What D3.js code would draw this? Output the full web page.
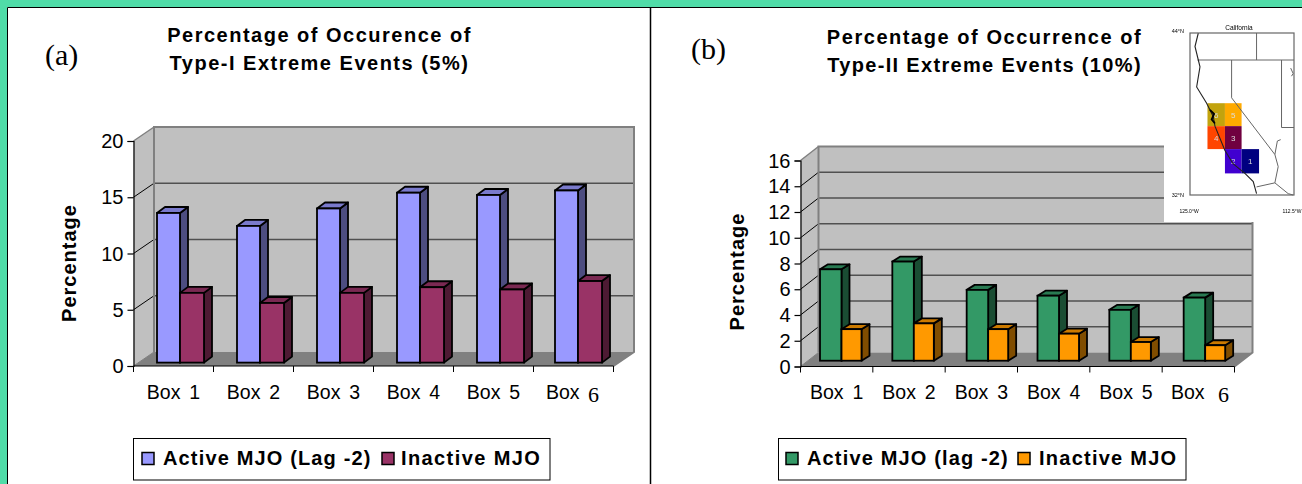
<!DOCTYPE html>
<html><head><meta charset="utf-8">
<script src="https://cdn.jsdelivr.net/npm/d3@7"></script>
<style>
html,body{margin:0;padding:0;background:#fff;overflow:hidden}
svg{display:block}
text{font-family:"Liberation Sans",Arial,sans-serif;fill:#000}
.serif{font-family:"Liberation Serif","Times New Roman",serif}
</style></head><body>
<svg id="c" width="1302" height="484"></svg>
<script>
const categories = ["Box 1","Box 2","Box 3","Box 4","Box 5","Box 6"];
const activeA = [13.3, 12.15, 13.7, 15.1, 14.9, 15.3];
const inactiveA = [6.2, 5.3, 6.2, 6.7, 6.5, 7.25];
const activeB = [7.1, 7.7, 5.5, 5.05, 3.95, 4.9];
const inactiveB = [2.45, 2.9, 2.45, 2.1, 1.45, 1.2];
const ticksA = [0,5,10,15,20];
const ticksB = [0,2,4,6,8,10,12,14,16];
const titleA = ["Percentage of Occurence of","Type-I Extreme Events (5%)"];
const titleB = ["Percentage of Occurrence of","Type-II Extreme Events (10%)"];
const legendA = ["Active MJO (Lag -2)","Inactive MJO"];
const legendB = ["Active MJO (lag -2)","Inactive MJO"];
// inset map outlines, lon/lat degrees
const coast = [[-124,44],[-124.4,43],[-123.8,41.5],[-124.2,40],[-123,38.8],[-122.2,37.8],[-122,37.1],[-120.8,35.3],[-119.8,34.3],[-118.4,33.6],[-117.4,33],[-117,32.1]];
const bay = [[-122.6,38.3],[-122.1,38],[-122.4,37.6],[-122,37.3]];
const caBorder = [[-120,42],[-120,39.2],[-114.8,35],[-114.4,34.1],[-114.8,32.9],[-117,32.6]];
const otherBorders = [
 [[-124.1,42],[-112.5,42]],[[-117,44],[-117,42]],[[-114,42],[-114,37]],[[-114,37],[-112.5,37]],
 [[-114.8,32.9],[-113.2,32.1],[-112.6,32]],[[-114.8,35],[-114.5,36],[-114.1,36.1]],[[-112.9,41.4],[-112.6,41],[-112.8,40.8]]];
const mapBoxes = [
 {n:"6",lon:[-122.9,-120.8],lat:[38.8,37.1],c:"#C2A30F"},
 {n:"5",lon:[-120.8,-118.8],lat:[38.8,37.1],c:"#FFAA00"},
 {n:"4",lon:[-122.9,-120.8],lat:[37.1,35.4],c:"#FF4500"},
 {n:"3",lon:[-120.8,-118.8],lat:[37.1,35.4],c:"#700040"},
 {n:"2",lon:[-120.8,-118.8],lat:[35.4,33.6],c:"#4000D0"},
 {n:"1",lon:[-118.8,-116.7],lat:[35.4,33.6],c:"#000080"}];

const svg = d3.select("#c");
const TEAL = "#50DCA8";
// frame
svg.append("rect").attr("width",1302).attr("height",7).attr("fill",TEAL);
svg.append("rect").attr("width",7).attr("height",484).attr("fill",TEAL);
svg.append("path").attr("d","M7.5,484V7.5H1302").attr("fill","none").attr("stroke","#000").attr("stroke-width",1);
svg.append("path").attr("d","M650.5,7V484").attr("fill","none").attr("stroke","#000").attr("stroke-width",1.5);

function poly(g,pts,fill,stroke,sw){
  return g.append("polygon").attr("points",pts.map(p=>p.join(",")).join(" "))
    .attr("fill",fill).attr("stroke",stroke||"none").attr("stroke-width",sw||0).attr("stroke-linejoin","round");
}
function shade(c,k){const r=d3.rgb(c);return d3.rgb(r.r*k,r.g*k,r.b*k).formatHex();}

function chart(o){
  const g = svg.append("g");
  const y = d3.scaleLinear().domain([0,o.ymax]).range([o.y0,o.yTop]);
  const x = d3.scaleBand().domain(categories).range([o.x0,o.x1]);
  const dx=o.dx, dy=o.dy;
  // walls
  poly(g,[[o.x0,y(0)],[o.x0+dx,y(0)-dy],[o.x0+dx,o.yTop-dy],[o.x0,o.yTop]],"#C0C0C0");
  poly(g,[[o.x0+dx,y(0)-dy],[o.x1+dx,y(0)-dy],[o.x1+dx,o.yTop-dy],[o.x0+dx,o.yTop-dy]],"#C0C0C0");
  poly(g,[[o.x0,y(0)],[o.x1,y(0)],[o.x1+dx,y(0)-dy],[o.x0+dx,y(0)-dy]],"#808080");
  // grid
  o.ticks.forEach(t=>{
    if(t>0 && t<o.ymax) g.append("line").attr("x1",o.x0+dx).attr("x2",o.x1+dx).attr("y1",y(t)-dy).attr("y2",y(t)-dy).attr("stroke","#505050").attr("stroke-width",1.5);
    if(t>0 && t<=o.ymax) g.append("line").attr("x1",o.x0).attr("x2",o.x0+dx).attr("y1",y(t)).attr("y2",y(t)-dy).attr("stroke",t===o.ymax?"#808080":"#000").attr("stroke-width",t===o.ymax?1.5:1);
  });
  g.append("path").attr("d",`M${o.x0+dx},${y(0)-dy}V${o.yTop-dy}H${o.x1+dx}V${y(0)-dy}L${o.x1},${y(0)}`)
    .attr("fill","none").attr("stroke","#808080").attr("stroke-width",2);
  g.append("line").attr("x1",o.x0).attr("x2",o.x0+dx).attr("y1",y(0)).attr("y2",y(0)-dy).attr("stroke","#808080").attr("stroke-width",1);
  // bars
  const yb = v => y(v)-o.lift;
  function bar(left,w,v,c){
    const b=yb(0), t=yb(v), r=left+w, d=o.bdx, e=o.bdy;
    poly(g,[[r,b],[r+d,b-e],[r+d,t-e],[r,t]],shade(c,.5),"#000",1.8);
    poly(g,[[left,t],[left+d,t-e],[r+d,t-e],[r,t]],shade(c,.8),"#000",1.8);
    g.append("rect").attr("x",left).attr("y",t).attr("width",w).attr("height",b-t).attr("fill",c).attr("stroke","#000").attr("stroke-width",1.8);
  }
  categories.forEach((cat,i)=>{
    const l=x(cat)+o.offs[i];
    bar(l,o.w1,o.active[i],o.c1);
    bar(l+o.w1,o.w2,o.inactive[i],o.c2);
  });
  // axes
  const ay=g.append("g").attr("transform",`translate(${o.x0},0)`).call(d3.axisLeft(y).tickValues(o.ticks).tickSize(6).tickPadding(4).tickFormat(d3.format("d")));
  ay.selectAll("text").style("font-size","20px").style("font-family","Liberation Sans").attr("fill","#000").attr("dy","0.33em");
  ay.selectAll("line,path").attr("stroke","#000").attr("stroke-width",1.2);
  const edges=categories.map(c=>x(c)).concat([o.x1]);
  g.append("line").attr("x1",o.x0).attr("x2",o.x1).attr("y1",y(0)).attr("y2",y(0)).attr("stroke","#000").attr("stroke-width",1.2);
  edges.forEach(e=>g.append("line").attr("x1",e).attr("x2",e).attr("y1",y(0)).attr("y2",y(0)+6).attr("stroke","#000").attr("stroke-width",1));
  // category labels
  categories.forEach((cat,i)=>{
    const parts=cat.split(" ");
    const t=g.append("text").attr("y",o.labelY).style("font-size","19.5px");
    if(i<5){
      t.attr("x",x(cat)+x.bandwidth()/2+o.labelShift).attr("text-anchor","middle").style("word-spacing","3.5px").text(cat);
    } else {
      t.attr("x",o.box6x).text(parts[0]);
      g.append("text").attr("class","serif").attr("x",o.six).attr("y",o.labelY+3).style("font-size","22px").style("font-family","Liberation Serif").text(parts[1]);
    }
  });
  // titles
  o.title.forEach((s,i)=>{
    g.append("text").attr("x",o.titleX).attr("y",o.titleY+i*28).attr("text-anchor","middle")
     .style("font-size","20px").style("font-weight","bold").style("letter-spacing",o.titleLs[i]+"px").text(s);
  });
  g.append("text").attr("class","serif").attr("x",o.tagX).attr("y",o.tagY).style("font-size","30px").style("font-family","Liberation Serif").text(o.tag);
  g.append("text").attr("transform",`translate(${o.ytX},${o.ytY}) rotate(-90)`).attr("text-anchor","middle")
    .style("font-size","20px").style("font-weight","bold").style("letter-spacing","1px").text("Percentage");
  // legend
  g.append("rect").attr("x",o.lg[0]).attr("y",438.5).attr("width",o.lg[1]-o.lg[0]).attr("height",41.5).attr("fill","#fff").attr("stroke","#000").attr("stroke-width",1);
  [[o.sw1,o.c1,o.tx1],[o.sw2,o.c2,o.tx2]].forEach((r,i)=>{
    g.append("rect").attr("x",r[0]).attr("y",452.5).attr("width",12).attr("height",12).attr("fill",r[1]).attr("stroke","#000").attr("stroke-width",1.5);
    g.append("text").attr("x",r[2]).attr("y",465).style("font-size","20px").style("font-weight","bold").style("letter-spacing",(i?o.lgLs2:o.lgLs)+"px").text(o.legend[i]);
  });
}

chart({active:activeA,inactive:inactiveA,ticks:ticksA,ymax:20,title:titleA,legend:legendA,tag:"(a)",
  x0:133.5,x1:613.5,y0:366,yTop:141,dx:20.5,dy:14,lift:3.4,bdx:8,bdy:6,
  offs:[23.5,23.5,23.5,23.5,23.5,21.5],w1:23,w2:24,c1:"#9999FF",c2:"#993366",
  labelY:398.5,labelShift:0,box6x:546,six:588,titleX:319.5,titleY:42,titleLs:[1.5,1.5],
  tagX:45,tagY:65,ytX:76,ytY:263,lg:[133.5,550],sw1:142,sw2:382,tx1:163,tx2:401,lgLs:1.15,lgLs2:1.4});
chart({active:activeB,inactive:inactiveB,ticks:ticksB,ymax:16,title:titleB,legend:legendB,tag:"(b)",
  x0:800.5,x1:1234.5,y0:366.5,yTop:160.5,dx:18,dy:14,lift:5.8,bdx:8,bdy:5,
  offs:[19.5,19.5,21.5,20,19.5,21.5],w1:21.5,w2:20,c1:"#339966",c2:"#FF9900",
  labelY:398.5,labelShift:0,box6x:1171,six:1218,titleX:984.5,titleY:44,titleLs:[1.55,1.33],
  tagX:691,tagY:59,ytX:744,ytY:271.5,lg:[778.5,1186],sw1:786,sw2:1018,tx1:807,tx2:1039,lgLs:1.15,lgLs2:1.25});

// inset map
const inset = svg.append("g");
inset.append("rect").attr("x",1164).attr("y",15).attr("width",138).attr("height",207).attr("fill","#fff");
const defs = svg.append("defs");
defs.append("filter").attr("id","soft").append("feGaussianBlur").attr("stdDeviation",0.7);
const m = inset.append("g").attr("filter","url(#soft)");
const lon = d3.scaleLinear().domain([-125,-112.5]).range([1190,1294]);
const lat = d3.scaleLinear().domain([32,44]).range([195,33]);
const line = d3.line().x(d=>lon(d[0])).y(d=>lat(d[1]));
mapBoxes.forEach(b=>{
  m.append("rect").attr("x",lon(b.lon[0])).attr("y",lat(b.lat[0])).attr("width",lon(b.lon[1])-lon(b.lon[0])).attr("height",lat(b.lat[1])-lat(b.lat[0])).attr("fill",b.c);
  m.append("text").attr("x",(lon(b.lon[0])+lon(b.lon[1]))/2).attr("y",(lat(b.lat[0])+lat(b.lat[1]))/2+3).attr("text-anchor","middle").style("font-size","8px").style("fill","#ddd").text(b.n);
});
otherBorders.concat([caBorder]).forEach(p=>m.append("path").attr("d",line(p)).attr("fill","none").attr("stroke","#666").attr("stroke-width",1));
m.append("path").attr("d",line(coast)).attr("fill","none").attr("stroke","#222").attr("stroke-width",1.1);
m.append("path").attr("d",line(bay)).attr("fill","none").attr("stroke","#000").attr("stroke-width",1.8);
m.append("rect").attr("x",1190).attr("y",33).attr("width",104).attr("height",162).attr("fill","none").attr("stroke","#666").attr("stroke-width",1.2);
m.append("text").attr("x",1239).attr("y",30).attr("text-anchor","middle").style("font-size","6.5px").text("California");
m.append("text").attr("x",1184).attr("y",33).attr("text-anchor","end").style("font-size","5.5px").text("44°N");
m.append("text").attr("x",1184).attr("y",197).attr("text-anchor","end").style("font-size","5.5px").text("32°N");
m.append("text").attr("x",1189).attr("y",213).attr("text-anchor","middle").style("font-size","5px").text("125.0°W");
m.append("text").attr("x",1292).attr("y",213).attr("text-anchor","middle").style("font-size","5px").text("112.5°W");
</script>
</body></html>
